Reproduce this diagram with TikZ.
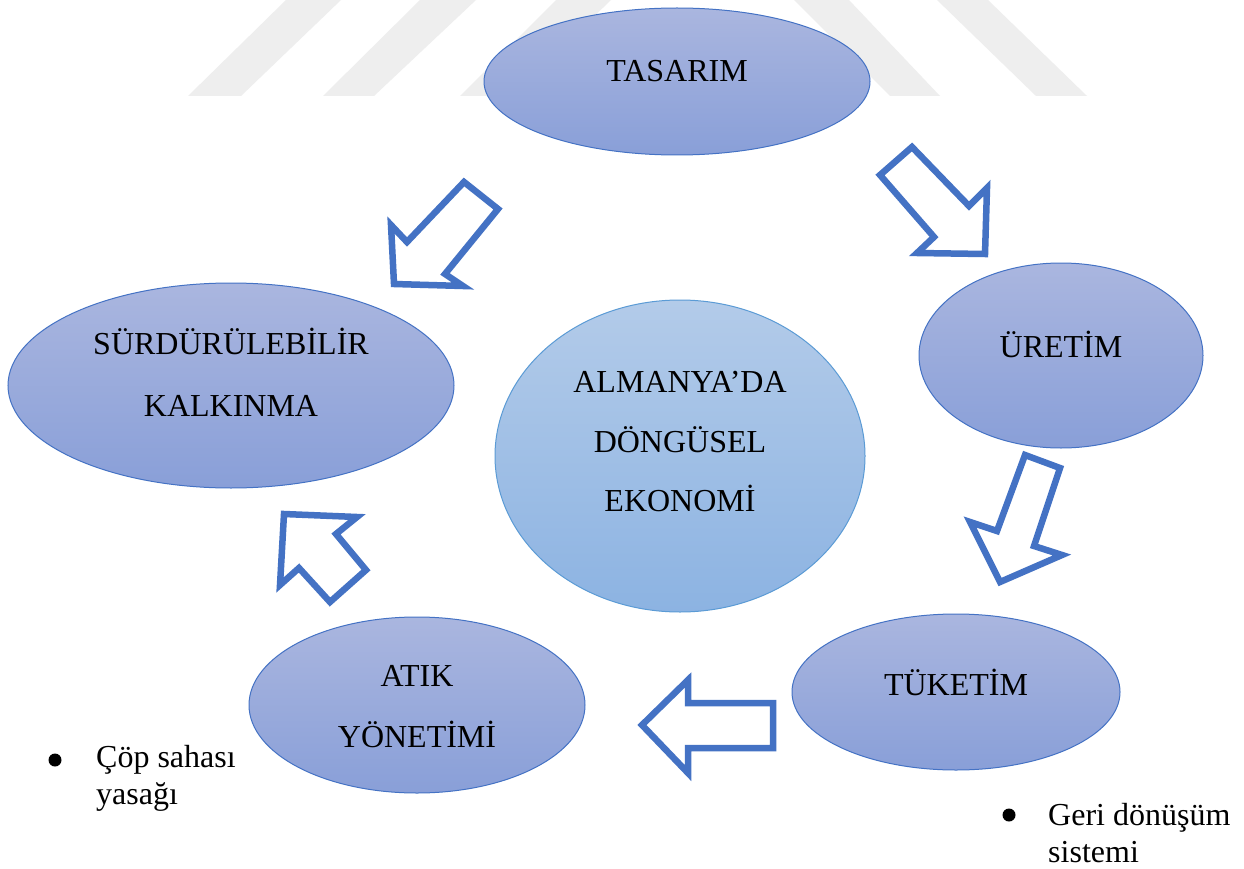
\documentclass[tikz,border=0pt]{standalone}
\usepackage{fontspec}
\setmainfont{Liberation Serif}
\usetikzlibrary{shapes.geometric}
\definecolor{ellT}{HTML}{AAB6DF}
\definecolor{ellB}{HTML}{899FD8}
\definecolor{cirT}{HTML}{B3CBE9}
\definecolor{cirB}{HTML}{8CB3E2}
\definecolor{edge}{HTML}{4472C4}
\definecolor{cedge}{HTML}{5B9BD5}
\definecolor{wm}{HTML}{EEEEEE}
\tikzset{
  ell/.style={ellipse, draw=edge, line width=1pt, top color=ellT, bottom color=ellB, inner sep=0pt},
  cir/.style={ellipse, draw=cedge, line width=1pt, top color=cirT, bottom color=cirB, inner sep=0pt},
  lbl/.style={inner sep=0pt, font=\fontsize{32}{36}\selectfont, text height=22pt, text depth=0pt, anchor=center},
  btxt/.style={inner sep=0pt, font=\fontsize{32}{36}\selectfont, anchor=base west},
  bdot/.style={circle, fill=black, inner sep=0pt, minimum size=13pt},
  barrow/.style={draw=edge, line width=6.5pt, fill=white, line join=miter, miter limit=10},
  wmark/.style={fill=wm, draw=none}
}
\begin{document}
\begin{tikzpicture}[x=1pt,y=-1pt]
\useasboundingbox (0,0) rectangle (1244,869);
\fill[white] (0,0) rectangle (1244,869);
% watermark stripes
\fill[wmark] (188,96) -- (241,96) -- (341,0) -- (286,0) -- cycle;
\fill[wmark] (323,96) -- (374,96) -- (476,0) -- (420,0) -- cycle;
\fill[wmark] (460,96) -- (512,96) -- (611,0) -- (556,0) -- cycle;
\fill[wmark] (794,0) -- (849,0) -- (940,96) -- (890,96) -- cycle;
\fill[wmark] (937,0) -- (988,0) -- (1087,96) -- (1036,96) -- cycle;

% ellipses
\node[ell, minimum width=386pt, minimum height=147pt] (tas) at (677,81.5) {};
\node[ell, minimum width=284pt, minimum height=185pt] (ure) at (1061,355.5) {};
\node[ell, minimum width=446pt, minimum height=205pt] (sur) at (231,385.5) {};
\node[cir, minimum width=370pt, minimum height=312pt] (cen) at (680,456) {};
\node[ell, minimum width=328pt, minimum height=156pt] (tuk) at (956,692) {};
\node[ell, minimum width=336pt, minimum height=176pt] (atk) at (417,705) {};

% labels
\node[lbl] (tasT) at (677,71) {TASARIM};
\node[lbl] (ureT) at (1061,346) {ÜRETİM};
\node[lbl] (surT1) at (231,343) {SÜRDÜRÜLEBİLİR};
\node[lbl] (surT2) at (231,405) {KALKINMA};
\node[lbl] (cenT1) at (680,381) {ALMANYA’DA};
\node[lbl] (cenT2) at (680,441) {DÖNGÜSEL};
\node[lbl] (cenT3) at (680,500) {EKONOMİ};
\node[lbl] (tukT) at (956,684) {TÜKETİM};
\node[lbl] (atkT1) at (417,675) {ATIK};
\node[lbl] (atkT2) at (417,736) {YÖNETİMİ};

% block arrows
\draw[barrow] (394,284) -- (391,225) -- (407,242) -- (464,182) -- (498,209) -- (445,274) -- (463,286) -- cycle;
\draw[barrow] (912,147) -- (880,175) -- (934,237) -- (917,253) -- (985,254) -- (987,188) -- (969,206) -- cycle;
\draw[barrow] (1025,455) -- (1060,468) -- (1034,546) -- (1062,555) -- (1000,582) -- (970,522) -- (997,531) -- cycle;
\draw[barrow] (642,725) -- (688,680) -- (688,703) -- (773,703) -- (773,748) -- (688,748) -- (688,773) -- cycle;
\draw[barrow] (284,514) -- (357,517) -- (336,534) -- (366,570) -- (330,602) -- (299,568) -- (280,585) -- cycle;

% bullet notes
\node[bdot] (b1) at (55,760) {};
\node[btxt] (b1a) at (96,767) {Çöp sahası};
\node[btxt] (b1b) at (96,804) {yasağı};
\node[bdot] (b2) at (1009,815) {};
\node[btxt] (b2a) at (1048,825) {Geri dönüşüm};
\node[btxt] (b2b) at (1048,862) {sistemi};
\end{tikzpicture}
\end{document}
